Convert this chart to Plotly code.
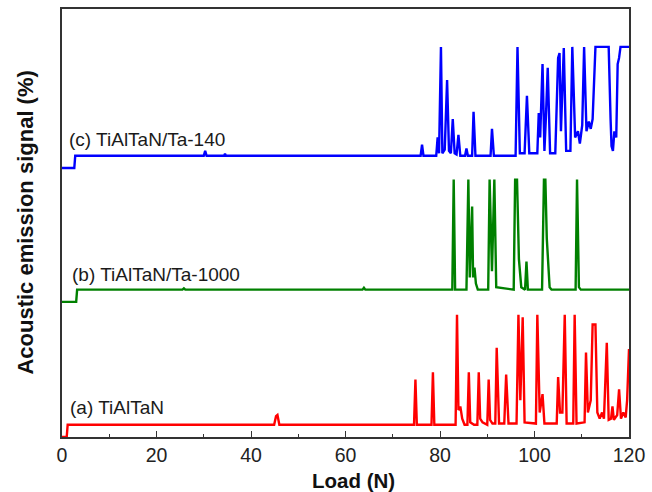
import plotly.graph_objects as go

# ---- data (Load in N, acoustic emission signal in %) ----
load_a = [0, 1.0, 1.2, 44.9, 45.3, 45.6, 46.0, 74.5, 74.8, 75.1, 78.2, 78.5, 78.8,
          83.3, 83.6, 83.9, 84.3, 84.7, 85.2, 85.8, 86.1, 86.4, 87.2, 87.9, 88.2, 88.5, 89.0,
          90.0, 90.3, 90.6, 91.1, 91.7, 92.0, 92.5, 93.6, 94.0, 94.5, 96.2, 96.6, 97.0, 97.5, 97.9,
          100.3, 100.6, 101.1, 101.7, 102.1, 104.7, 105.0, 105.4, 105.9, 106.4, 106.8,
          108.2, 108.5, 108.9, 110.6, 110.9, 111.3, 111.9, 112.3, 112.9, 113.3, 113.8, 114.3,
          114.7, 115.3, 115.7, 116.2, 116.5, 116.8, 117.5, 117.9, 118.3, 118.8, 119.3, 119.6, 120]
sig_a = [0, 0, 10, 10, 17, 18, 10, 10, 47, 10, 10, 53, 10,
         10, 100, 22, 25, 15, 10, 10, 53, 12, 10, 10, 53, 15, 12,
         10, 47, 14, 11, 11, 73, 11, 11, 51, 11, 11, 100, 30, 98, 12,
         11, 100, 20, 35, 11, 11, 49, 20, 20, 100, 11,
         11, 100, 11, 12, 69, 20, 30, 92, 92, 20, 15, 20,
         15, 77, 14, 15, 25, 14, 18, 39, 15, 20, 16, 30, 72]

load_b = [0, 3.0, 3.2, 25.5, 25.8, 26.1, 63.6, 63.9, 64.2, 82.6, 82.9, 83.2,
          85.6, 86.0, 86.3, 86.8, 87.0, 87.3, 87.6, 88.0, 90.2, 90.5, 91.0, 91.5, 91.9,
          95.6, 95.9, 96.3, 96.7, 97.2, 98.0, 98.3, 98.6, 101.6, 102.0, 102.3, 102.6, 103.2,
          103.6, 108.7, 109.0, 109.4, 109.8, 120]
sig_b = [0, 0, 10, 10, 11, 10, 10, 11.5, 10, 10, 100, 10,
         10, 100, 20, 78, 20, 28, 15, 10, 10, 100, 25, 100, 12,
         10, 100, 100, 35, 12, 10, 33, 10, 10, 100, 100, 52, 12,
         10, 10, 100, 12, 10, 10]

load_c = [0, 2.6, 2.8, 30.0, 30.3, 30.6, 34.3, 34.5, 34.7, 75.9, 76.2, 76.5,
          79.2, 79.5, 79.8, 80.2, 80.5, 81.0, 81.5, 81.9, 82.3, 82.7, 83.1, 83.5, 83.9, 84.3,
          85.3, 85.6, 85.9, 86.8, 87.1, 87.5, 90.7, 91.0, 91.4, 96.0, 96.4, 96.9, 97.9, 98.4, 98.9,
          100.6, 100.9, 101.2, 101.7, 102.1, 102.4, 102.8, 103.3, 104.4, 105.0, 105.3, 105.6,
          106.2, 106.7, 107.6, 108.0, 108.6, 109.2, 109.6, 110.1, 110.5, 111.0, 111.5, 111.9,
          112.3, 112.9, 115.7, 116.1, 116.3, 116.6, 116.9, 117.3, 117.6, 117.9, 118.2, 120]
sig_c = [0, 0, 10, 10, 14, 10, 10, 11.5, 10, 10, 19, 10,
         10, 25, 12, 99, 12, 15, 72, 14, 12, 40, 12, 11, 27, 10,
         10, 16, 10, 10, 46, 10, 10, 32, 10, 10, 99, 12, 12, 59, 12,
         12, 45, 25, 85, 14, 40, 82, 12, 12, 90, 94, 30,
         98, 14, 14, 99, 25, 30, 20, 35, 99, 30, 38, 32,
         40, 99, 99, 40, 18, 14, 30, 25, 85, 90, 99, 99]

labels = ["(a) TiAlTaN", "(b) TiAlTaN/Ta-1000", "(c) TiAlTaN/Ta-140"]
offsets = [0, 110.5, 220]          # vertical stacking offsets (%)
colors = ["#ff0000", "#008000", "#0000ff"]
label_pos = [(1.3, 24.4), (1.7, 133), (1.0, 243.5)]

x_ticks = [0, 20, 40, 60, 80, 100, 120]

fig = go.Figure()
for xs, ys, off, col in zip([load_a, load_b, load_c], [sig_a, sig_b, sig_c], offsets, colors):
    fig.add_trace(go.Scatter(x=xs, y=[v + off for v in ys], mode="lines",
                             line=dict(color=col, width=2.4), showlegend=False,
                             hoverinfo="skip"))

for lab, (lx, ly) in zip(labels, label_pos):
    fig.add_annotation(x=lx, y=ly, xref="x", yref="y", text=lab, showarrow=False,
                       xanchor="left", yanchor="middle",
                       font=dict(family="Liberation Sans, Arial", size=19, color="#1a1a1a"))

fig.add_annotation(x=-0.066, y=0.5, xref="paper", yref="paper",
                   text="<b>Acoustic emission signal (%)</b>", textangle=-90,
                   showarrow=False, xanchor="center", yanchor="middle",
                   font=dict(family="Liberation Sans, Arial", size=22, color="#111111"))

fig.add_annotation(x=0.514, y=-0.101, xref="paper", yref="paper",
                   text="<b>Load (N)</b>", showarrow=False,
                   xanchor="center", yanchor="middle",
                   font=dict(family="Liberation Sans, Arial", size=20.5, color="#111111"))

fig.update_layout(
    width=652, height=492,
    margin=dict(l=62, r=18, t=7, b=55),
    paper_bgcolor="white", plot_bgcolor="white",
    font=dict(family="Liberation Sans, Arial", color="#111111"),
    xaxis=dict(range=[0, 120], tickvals=x_ticks, ticks="inside", ticklen=6,
               tickwidth=1.3, tickcolor="#333333",
               minor=dict(dtick=10, ticks="inside", ticklen=3.5, tickwidth=1.2,
                          tickcolor="#333333", showgrid=False),
               showline=True, linecolor="#333333", linewidth=1.6, mirror=True,
               showgrid=False, zeroline=False,
               tickfont=dict(size=19.5, color="#222222")),
    yaxis=dict(range=[0, 350], showticklabels=False, ticks="",
               showline=True, linecolor="#333333", linewidth=1.6, mirror=True,
               showgrid=False, zeroline=False),
)

fig.write_html("out.html")
